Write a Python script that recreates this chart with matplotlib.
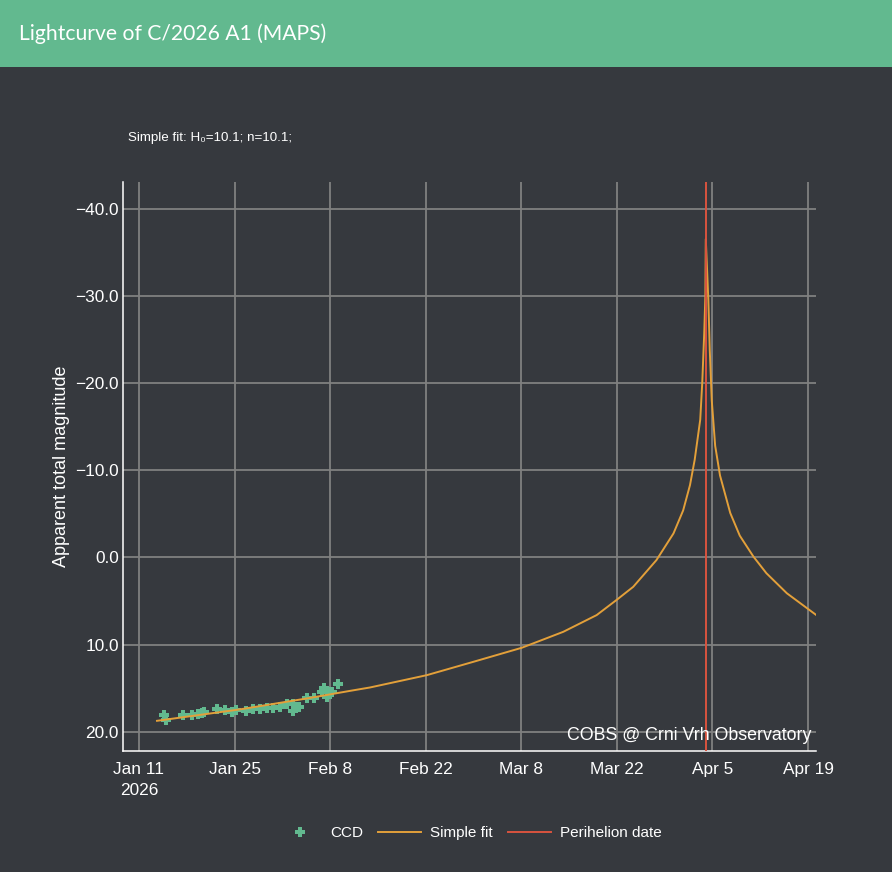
import pandas as pd
import numpy as np
import matplotlib
matplotlib.use("Agg")
import matplotlib.pyplot as plt
from matplotlib.patches import Rectangle

ccd_dates = [
    "2026-01-14 16:00", "2026-01-14 23:00", "2026-01-17 12:00", "2026-01-18 17:00",
    "2026-01-19 16:30", "2026-01-20 04:30", "2026-01-20 13:30", "2026-01-22 09:00",
    "2026-01-23 14:30", "2026-01-24 14:00", "2026-01-25 05:00", "2026-01-26 16:00",
    "2026-01-27 18:00", "2026-01-28 17:00", "2026-01-29 17:00", "2026-01-30 16:00",
    "2026-01-31 15:30", "2026-02-01 15:00", "2026-02-02 14:30", "2026-02-02 14:30",
    "2026-02-03 11:30", "2026-02-04 13:30", "2026-02-05 15:00", "2026-02-06 18:00",
    "2026-02-07 02:30", "2026-02-07 12:00", "2026-02-07 17:30", "2026-02-08 05:30",
    "2026-02-09 02:30",
]
ccd_mags = [
    18.0, 18.65, 18.07, 18.07, 17.96, 17.88, 17.76, 17.39,
    17.5, 17.7, 17.5, 17.61, 17.42, 17.39, 17.3, 17.24,
    17.19, 16.85, 16.81, 17.58, 17.12, 16.09, 16.09, 15.47,
    15.01, 15.97, 15.4, 15.47, 14.52,
]

# simple fit curve
fit_dates = [
    "2026-01-13 15:30", "2026-01-25 19:00", "2026-02-04 13:30", "2026-02-10 21:30",
    "2026-02-13 20:00", "2026-02-22 03:30", "2026-02-28 23:15", "2026-03-08 01:30",
    "2026-03-14 03:30", "2026-03-19 01:00", "2026-03-22 01:30", "2026-03-24 09:30",
    "2026-03-27 19:00", "2026-03-30 07:00", "2026-03-31 17:00", "2026-04-01 17:00",
    "2026-04-02 09:30", "2026-04-03 05:00", "2026-04-03 12:00", "2026-04-03 19:00",
    "2026-04-03 23:00", "2026-04-04 00:30", "2026-04-04 09:30", "2026-04-04 14:30",
    "2026-04-04 21:30", "2026-04-05 09:30", "2026-04-06 02:30", "2026-04-07 14:30",
    "2026-04-09 00:00", "2026-04-11 00:00", "2026-04-12 21:30", "2026-04-15 21:30",
    "2026-04-20 05:00",
]
fit_mags = [
    18.72, 17.41, 16.16, 15.29,
    14.9, 13.49, 11.96, 10.35,
    8.52, 6.6, 4.8, 3.36,
    0.3, -2.76, -5.4, -8.3,
    -11.2, -15.8, -20.0, -25.7,
    -30.0, -36.5, -29.5, -23.8,
    -18.0, -12.8, -9.4, -5.1,
    -2.5, -0.1, 1.8, 4.1,
    6.6,
]

perihelion = "2026-04-04 00:30"

tick_dates = ["2026-01-11", "2026-01-25", "2026-02-08", "2026-02-22",
              "2026-03-08", "2026-03-22", "2026-04-05", "2026-04-19"]
tick_labels = ["Jan 11\n2026", "Jan 25", "Feb 8", "Feb 22",
               "Mar 8", "Mar 22", "Apr 5", "Apr 19"]
y_ticks = [-40, -30, -20, -10, 0, 10, 20]

bg = "#36393e"
green = "#62b98f"
orange = "#e3a03a"
red = "#d9533f"
grid = "#808080"

plt.rcParams['font.family'] = ['Liberation Sans', 'DejaVu Sans']

fig, ax = plt.subplots(figsize=(8.92, 8.72), dpi=100)
fig.patch.set_facecolor(bg)
ax.set_facecolor(bg)
fig.subplots_adjust(left=123/892, right=815.6/892, bottom=1-751/872, top=1-182/872)

# header band
fig.patches.append(Rectangle((0, 1-67/872), 1, 67/872, transform=fig.transFigure,
                             facecolor=green, edgecolor="none", zorder=0))
fig.text(19/892, 1-39.5/872, "Lightcurve of C/2026 A1 (MAPS)", color="white",
         fontsize=15.2, family=["Lato", "DejaVu Sans"], ha="left", va="baseline")

ccd_x = pd.to_datetime(ccd_dates)
fit_x = pd.to_datetime(fit_dates)

ax.plot(ccd_x, ccd_mags, linestyle="none", marker="P", markersize=7,
        markeredgewidth=0, color=green, label="CCD", zorder=3)
ax.plot(fit_x, fit_mags, color=orange, linewidth=1.4, label="Simple fit", zorder=4)
ax.axvline(pd.Timestamp(perihelion), color=red, linewidth=1.4,
           label="Perihelion date", zorder=5)

ax.set_xlim(pd.Timestamp("2026-01-08 16:00"), pd.Timestamp("2026-04-20 02:30"))
ax.set_ylim(22.18, -43.04)

ax.set_xticks(pd.to_datetime(tick_dates))
ax.set_xticklabels(tick_labels, linespacing=1.45)
ax.set_yticks(y_ticks)
ax.set_yticklabels([f"{v:.1f}".replace("-", "\u2212") for v in y_ticks])
ax.tick_params(axis="both", length=0, colors="white", labelsize=12.4)
ax.tick_params(axis="x", pad=8)
ax.tick_params(axis="y", pad=3)

ax.grid(True, color=grid, linewidth=1.3, zorder=1)
ax.set_axisbelow(True)
for side in ["top", "right"]:
    ax.spines[side].set_visible(False)
for side in ["left", "bottom"]:
    ax.spines[side].set_color("white")
    ax.spines[side].set_linewidth(1.1)

ax.set_ylabel("Apparent total magnitude", color="white", fontsize=13, labelpad=4)

fig.text(128/892, 1-140.5/872, "Simple fit: H\u2080=10.1; n=10.1;", color="white",
         fontsize=9.6, ha="left", va="baseline")
fig.text(811/892, 1-740/872, "COBS @ Crni Vrh Observatory", color="white",
         fontsize=12.8, ha="right", va="baseline", zorder=10)

fig.legend(loc="center", bbox_to_anchor=(470/892, 1-833/872), ncol=3, frameon=False,
           fontsize=11, labelcolor="white", handlelength=2.8, handletextpad=0.6,
           columnspacing=1.0)

plt.savefig("out.png", dpi=100, facecolor=bg)
